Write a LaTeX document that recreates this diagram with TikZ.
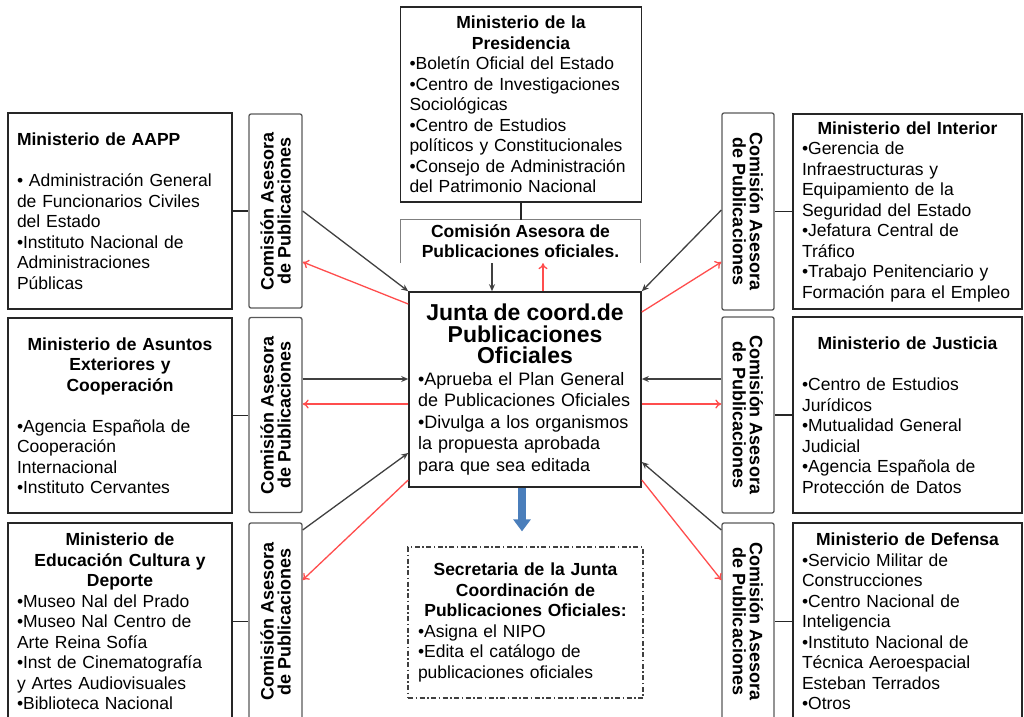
\documentclass[tikz,border=0pt]{standalone}
\usepackage{fontspec}
\setmainfont{Liberation Sans}
\usetikzlibrary{arrows.meta}

\definecolor{boxline}{HTML}{262626}
\definecolor{comline}{HTML}{595959}
\definecolor{topline}{HTML}{7F7F7F}
\definecolor{redarr}{HTML}{FF4D4D}
\definecolor{blkarr}{HTML}{404040}
\definecolor{bluefill}{HTML}{4A7EBB}

\newcommand{\bodyfont}{\fontsize{17.5}{20.5}\selectfont}
\newcommand{\juntafont}{\fontsize{18}{21.5}\selectfont}
\newcommand{\comfont}{\fontsize{18}{17}\selectfont\bfseries}
\newcommand{\ttl}[1]{{\centering\bfseries #1\par}}

\begin{document}
\begin{tikzpicture}[x=1pt,y=-1pt,
  minbox/.style={draw=boxline, line width=1.6pt, inner xsep=9pt, inner ysep=4pt, align=left, font=\bodyfont},
  combox/.style={draw=comline, line width=1.3pt, rounded corners=2pt, align=center, font=\comfont, inner sep=0pt, minimum height=53pt},
  link/.style={boxline, line width=1.3pt},
  toj/.style={blkarr, line width=1.3pt, -{Stealth[length=7pt,width=6pt]}},
  fromj/.style={redarr, line width=1.3pt, -{To[length=6pt,width=9pt]}}]
\useasboundingbox (0,0) rectangle (1024,716);
\clip (0,0) rectangle (1024,716);

% centre
\node[minbox, text width=223pt, minimum height=195pt] (pres) at (521,104.5)
  {\ttl{Ministerio de la\\Presidencia}•Boletín Oficial del Estado\\•Centro de Investigaciones\\Sociológicas\\•Centro de Estudios\\políticos y Constitucionales\\•Consejo de Administración\\del Patrimonio Nacional};
\node[align=center, font=\fontsize{17.5}{20}\selectfont\bfseries, minimum width=239pt, minimum height=43pt] (comT) at (520.5,241.5)
  {Comisión Asesora de\\Publicaciones oficiales.};
\draw[topline, line width=1.3pt] (comT.south west) -- (comT.north west) -- (comT.north east) -- (comT.south east);
\node[minbox, text width=214pt, minimum height=195pt, font=\juntafont] (junta) at (525,389.5)
  {{\centering\bfseries\fontsize{23}{21.5}\selectfont Junta de coord.de\\Publicaciones\\Oficiales\par}•Aprueba el Plan General\\de Publicaciones Oficiales\\•Divulga a los organismos\\la propuesta aprobada\\para que sea editada};
\node[minbox, draw=blkarr, line width=1.3pt, dash pattern=on 5pt off 2.5pt on 1.5pt off 2.5pt, inner xsep=10pt, text width=215pt, minimum height=151pt] (sec) at (525.5,622.5)
  {\ttl{Secretaria de la Junta\\Coordinación de\\Publicaciones Oficiales:}•Asigna el NIPO\\•Edita el catálogo de\\publicaciones oficiales};

% left
\node[minbox, text width=206pt, minimum height=196pt] (aapp) at (120,211)
  {{\bfseries Ministerio de AAPP\par}\vspace{20.5pt}• Administración General\\de Funcionarios Civiles\\del Estado\\•Instituto Nacional de\\Administraciones\\Públicas};
\node[minbox, text width=206pt, minimum height=195pt] (asuntos) at (120,415.5)
  {\ttl{Ministerio de Asuntos\\Exteriores y\\Cooperación}\vspace{20.5pt}•Agencia Española de\\Cooperación\\Internacional\\•Instituto Cervantes};
\node[minbox, text width=206pt, minimum height=197pt] (educ) at (120,621.5)
  {\ttl{Ministerio de\\Educación Cultura y\\Deporte}•Museo Nal del Prado\\•Museo Nal  Centro de\\Arte Reina Sofía\\•Inst  de Cinematografía\\y Artes Audiovisuales\\•Biblioteca Nacional};
\node[combox, rotate=90, minimum width=194pt] (comL1) at (275.5,211) {Comisión Asesora\\de Publicaciones};
\node[combox, rotate=90, minimum width=195pt] (comL2) at (275.5,415) {Comisión Asesora\\de Publicaciones};
\node[combox, rotate=90, minimum width=197pt] (comL3) at (275.5,621.5) {Comisión Asesora\\de Publicaciones};

% right
\node[minbox, text width=211pt, minimum height=195pt] (interior) at (907.5,211.5)
  {\ttl{Ministerio del Interior}•Gerencia de\\Infraestructuras y\\Equipamiento de la\\Seguridad del Estado\\•Jefatura Central de\\Tráfico\\•Trabajo Penitenciario y\\Formación para el Empleo};
\node[minbox, text width=211pt, minimum height=196pt] (justicia) at (907.5,415)
  {\ttl{Ministerio de Justicia}\vspace{20.5pt}•Centro de Estudios\\Jurídicos\\•Mutualidad General\\Judicial\\•Agencia Española de\\Protección de Datos};
\node[minbox, text width=211pt, minimum height=197pt] (defensa) at (907.5,621.5)
  {\ttl{Ministerio de Defensa}•Servicio Militar de\\Construcciones\\•Centro Nacional de\\Inteligencia\\•Instituto Nacional de\\Técnica Aeroespacial\\Esteban Terrados\\•Otros};
\node[combox, rotate=-90, minimum width=197pt, minimum height=52pt] (comR1) at (748,211.5) {Comisión Asesora\\de Publicaciones};
\node[combox, rotate=-90, minimum width=196pt, minimum height=52pt] (comR2) at (748,415) {Comisión Asesora\\de Publicaciones};
\node[combox, rotate=-90, minimum width=197pt, minimum height=52pt] (comR3) at (748,621.5) {Comisión Asesora\\de Publicaciones};

% links
\draw[link] (pres.south) -- (pres.south |- comT.north);
\draw[link] (aapp.east) -- (aapp.east -| comL1.north);
\draw[link] (asuntos.east) -- (asuntos.east -| comL2.north);
\draw[link] (educ.east) -- (educ.east -| comL3.north);
\draw[link] (interior.west) -- (interior.west -| comR1.north);
\draw[link] (justicia.west) -- (justicia.west -| comR2.north);
\draw[link] (defensa.west) -- (defensa.west -| comR3.north);

% arrows
\draw[toj] (comT.south -| 492,0) -- (junta.north -| 492,0);
\draw[fromj] (junta.north -| 543,0) -- (comT.south -| 543,0);
\draw[toj] (comL1.south) -- (junta.north west);
\draw[fromj] (junta.west |- 0,304) -- (comL1.south |- 0,262);
\draw[toj] (comL2.south |- 0,379) -- (junta.west |- 0,379);
\draw[fromj] (junta.west |- 0,404) -- (comL2.south |- 0,404);
\draw[toj] (comL3.south |- 0,530) -- (junta.west |- 0,453);
\draw[fromj] (junta.west |- 0,480) -- (comL3.south |- 0,580);
\draw[toj] (comR1.south |- 0,210) -- (junta.north east);
\draw[fromj] (junta.east |- 0,312) -- (comR1.south |- 0,262);
\draw[toj] (comR2.south |- 0,379) -- (junta.east |- 0,379);
\draw[fromj] (junta.east |- 0,404) -- (comR2.south |- 0,404);
\draw[toj] (comR3.south |- 0,530) -- (junta.east |- 0,462);
\draw[fromj] (junta.east |- 0,480) -- (comR3.south |- 0,580);
\draw[bluefill, line width=8pt, -{Triangle[width=17pt,length=12pt]}, shorten >=15pt] (junta.south -| 522,0) -- (sec.north -| 522,0);
\end{tikzpicture}
\end{document}
